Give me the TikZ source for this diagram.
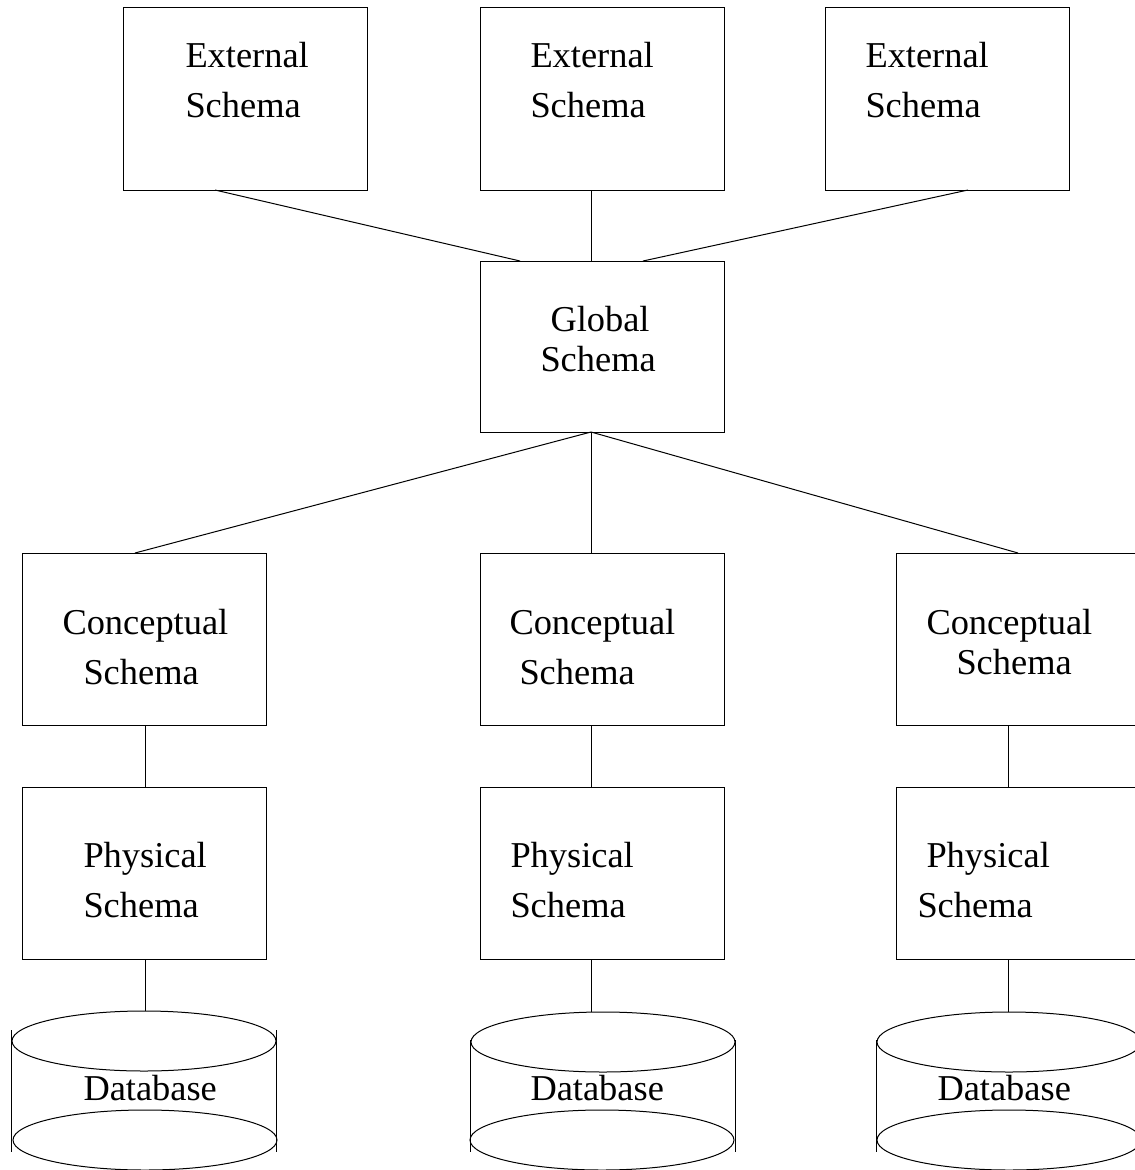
\documentclass[tikz,border=0pt]{standalone}
\usepackage{fontspec}
\setmainfont{Liberation Serif}
\usetikzlibrary{shapes.geometric}
\begin{document}
\begin{tikzpicture}[x=1pt,y=-1pt,line width=1pt,
  box/.style={draw,rectangle,inner sep=0pt,minimum width=244pt,minimum height=#1,anchor=north west},
  box/.default=172pt,
  lbl/.style={anchor=base west,inner sep=0pt,font=\fontsize{36.4}{42}\selectfont},
  disk/.style={draw,ellipse,inner sep=0pt,minimum width=264pt,minimum height=60pt},
  link/.style={line width=1pt}]
\useasboundingbox (0,0) rectangle (1135,1170);
\clip (0,0) rectangle (1135,1170);
% external
\node[box=183pt] (e1) at (123,7) {};
\node[box=183pt] (e2) at (480,7) {};
\node[box=183pt] (e3) at (825,7) {};
\node[lbl] (e1a) at (185,67) {External};
\node[lbl] (e1b) at (185,117) {Schema};
\node[lbl] (e2a) at (530,67) {External};
\node[lbl] (e2b) at (530,117) {Schema};
\node[lbl] (e3a) at (865,67) {External};
\node[lbl] (e3b) at (865,117) {Schema};
% global
\node[box=171pt] (g) at (480,261) {};
\node[lbl] (ga) at (550,331) {Global};
\node[lbl] (gb) at (540,371) {Schema};
% conceptual
\node[box] (c1) at (22,553) {};
\node[box] (c2) at (480,553) {};
\node[box] (c3) at (896,553) {};
\node[lbl] (c1a) at (62,634) {Conceptual};
\node[lbl] (c1b) at (83,684) {Schema};
\node[lbl] (c2a) at (509,634) {Conceptual};
\node[lbl] (c2b) at (519,684) {Schema};
\node[lbl] (c3a) at (926,634) {Conceptual};
\node[lbl] (c3b) at (956,674) {Schema};
% physical
\node[box] (p1) at (22,787) {};
\node[box] (p2) at (480,787) {};
\node[box] (p3) at (896,787) {};
\node[lbl] (p1a) at (83,867) {Physical};
\node[lbl] (p1b) at (83,917) {Schema};
\node[lbl] (p2a) at (510,867) {Physical};
\node[lbl] (p2b) at (510,917) {Schema};
\node[lbl] (p3a) at (926,867) {Physical};
\node[lbl] (p3b) at (917,917) {Schema};
% databases
\node[disk] (d1) at (144,1041) {};
\node[disk] (d2) at (603,1042) {};
\node[disk] (d3) at (1009,1042) {};
\node[disk] (d1b) at (145,1140) {};
\node[disk] (d2b) at (602,1140) {};
\node[disk] (d3b) at (1009,1140) {};
\draw (d1.west) ++(0,-11) -- ++(0,122);
\draw (d1.east) ++(0,-11) -- ++(0,122);
\draw (d2.west) ++(0,-2) -- ++(0,112);
\draw (d2.east) ++(0,-2) -- ++(0,112);
\draw (d3.west) ++(0,-2) -- ++(0,112);
\node[lbl] (d1t) at (83,1100) {Database};
\node[lbl] (d2t) at (530,1100) {Database};
\node[lbl] (d3t) at (937,1100) {Database};
% connectors
\coordinate (e1s) at (215,190);
\coordinate (e2s) at (591,190);
\coordinate (e3s) at (968,190);
\coordinate (gtl) at (520,261);
\coordinate (gtr) at (643,261);
\draw[link] (e1s) -- (gtl);
\draw[link] (e2s) -- (e2s |- g.north);
\draw[link] (e3s) -- (gtr);
\coordinate (gs) at (591,432);
\coordinate (c1t) at (135,553);
\coordinate (c3t) at (1018,553);
\draw[link] (gs) -- (c1t);
\draw[link] (gs) -- (gs |- c2.north);
\draw[link] (gs) -- (c3t);
\coordinate (c1s) at (145,725);
\coordinate (c2s) at (591,725);
\coordinate (c3s) at (1008,725);
\draw[link] (c1s) -- (c1s |- p1.north);
\draw[link] (c2s) -- (c2s |- p2.north);
\draw[link] (c3s) -- (c3s |- p3.north);
\coordinate (p1s) at (145,959);
\coordinate (p2s) at (591,959);
\coordinate (p3s) at (1008,959);
\draw[link] (p1s) -- (p1s |- d1.north);
\draw[link] (p2s) -- ++(0,53);
\draw[link] (p3s) -- (p3s |- d3.north);
\end{tikzpicture}
\end{document}
